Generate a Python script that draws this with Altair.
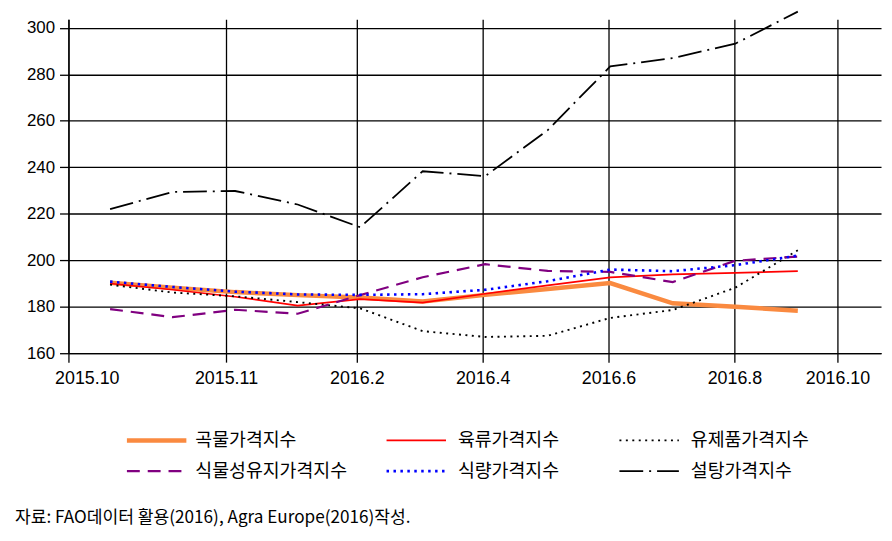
import altair as alt
import pandas as pd

# ---- data ----
months = ["2015.10", "2015.11", "2015.12", "2016.1", "2016.2", "2016.3",
          "2016.4", "2016.5", "2016.6", "2016.7", "2016.8", "2016.9"]
series_names = ["곡물가격지수", "육류가격지수", "유제품가격지수",
                "식물성유지가격지수", "식량가격지수", "설탕가격지수"]
cereal = [190.3, 188.2, 186.3, 185.0, 184.0, 182.3, 185.1, 187.6, 190.2, 181.5, 180.0, 178.3]
meat = [190.0, 187.3, 184.3, 180.5, 183.3, 181.8, 185.6, 189.2, 192.6, 193.9, 194.6, 195.3]
dairy = [189.5, 186.1, 184.5, 182.0, 179.3, 169.5, 167.0, 167.5, 175.2, 178.6, 188.2, 204.3]
vegoil = [179.0, 175.5, 178.7, 177.0, 185.0, 192.7, 198.3, 195.4, 195.0, 190.6, 199.8, 201.6]
food = [190.8, 188.5, 186.5, 185.3, 185.1, 185.4, 187.3, 191.0, 196.0, 195.3, 197.9, 202.0]
sugar = [222.0, 229.4, 229.8, 224.0, 214.2, 238.3, 236.2, 256.0, 283.4, 287.0, 293.2, 307.0]
series_values = [cereal, meat, dairy, vegoil, food, sugar]

x_tick_labels = ["2015.10", "2015.11", "2016.2", "2016.4", "2016.6", "2016.8", "2016.10"]
x_tick_pos = [-0.666, 1.854, 3.946, 5.959, 7.972, 9.986, 11.634]
x_domain = [-0.666, 12.331]
y_ticks = [160, 180, 200, 220, 240, 260, 280, 300]
y_domain = [160, 303.7]
source_note = "자료: FAO데이터 활용(2016), Agra Europe(2016)작성."

# ---- styles ----
colors = ["#FA8A40", "#FF0000", "#000000", "#800080", "#0000FF", "#000000"]
dashes = [None, None, [2, 4.5], [13, 8], [2.5, 4.5], [24, 6, 2, 6]]
widths = [4.5, 1.7, 1.9, 2.2, 2.6, 1.8]

W, H = 820, 337
KFONT = "Noto Sans CJK KR"
NFONT = "Liberation Sans"

label_expr = "[{}][indexof([{}], datum.value)]".format(
    ",".join("'%s'" % s for s in x_tick_labels),
    ",".join(repr(v) for v in x_tick_pos),
)

xscale = alt.Scale(domain=x_domain, nice=False, zero=False)
yscale = alt.Scale(domain=y_domain, nice=False, zero=False)
xaxis = alt.Axis(values=x_tick_pos, labelExpr=label_expr, title=None, grid=True,
                 gridColor="black", gridWidth=1.3, gridOpacity=1,
                 domainColor="black", domainWidth=1.3, tickColor="black",
                 tickWidth=1.3, tickSize=9, labelFont=NFONT, labelFontSize=18,
                 labelColor="black", labelPadding=8, labelFlush=True,
                 labelFlushOffset=14, labelOverlap=False)
yaxis = alt.Axis(values=y_ticks, title=None, grid=True, gridColor="black",
                 gridWidth=1.3, gridOpacity=1, domainColor="black",
                 domainWidth=1.3, tickColor="black", tickWidth=1.3, tickSize=9,
                 labelFont=NFONT, labelFontSize=17, labelColor="black",
                 labelPadding=5, labelOverlap=False)

layers = []
for i, (name, vals) in enumerate(zip(series_names, series_values)):
    df = pd.DataFrame({"idx": list(range(len(months))), "month": months,
                       "value": vals, "series": name})
    kw = dict(color=colors[i], strokeWidth=widths[i])
    if dashes[i]:
        kw["strokeDash"] = dashes[i]
    layers.append(
        alt.Chart(df).mark_line(**kw).encode(
            x=alt.X("idx:Q", scale=xscale, axis=xaxis),
            y=alt.Y("value:Q", scale=yscale, axis=yaxis),
        )
    )

# ---- manual legend (3 columns x 2 rows) ----
leg_sym_x = [59, 321, 556]
leg_txt_x = [128, 393, 628]
leg_row_y = [425, 456]
sym_len = 60
for i, name in enumerate(series_names):
    c, r = i % 3, i // 3
    ldf = pd.DataFrame({"series": [name]})
    kw = dict(color=colors[i], strokeWidth=widths[i])
    if dashes[i]:
        kw["strokeDash"] = dashes[i]
    layers.append(
        alt.Chart(ldf).mark_rule(**kw).encode(
            x=alt.value(leg_sym_x[c]), x2=alt.value(leg_sym_x[c] + sym_len),
            y=alt.value(leg_row_y[r]))
    )
    layers.append(
        alt.Chart(ldf).mark_text(align="left", baseline="middle", font=KFONT,
                                 fontSize=18.5, color="black").encode(
            x=alt.value(leg_txt_x[c]), y=alt.value(leg_row_y[r]),
            text="series:N")
    )

note_df = pd.DataFrame({"note": [source_note]})
layers.append(
    alt.Chart(note_df).mark_text(align="left", baseline="middle", font=KFONT,
                                 fontSize=17.3, color="black").encode(
        x=alt.value(-54), y=alt.value(503), text="note:N")
)

chart = alt.layer(*layers).properties(
    width=W, height=H,
    autosize=alt.AutoSizeParams(type="none"),
    padding={"left": 61, "top": 9, "right": 3, "bottom": 174},
).configure_view(strokeWidth=0)

chart.save("out.html", embed_options={"renderer": "svg", "actions": False})
